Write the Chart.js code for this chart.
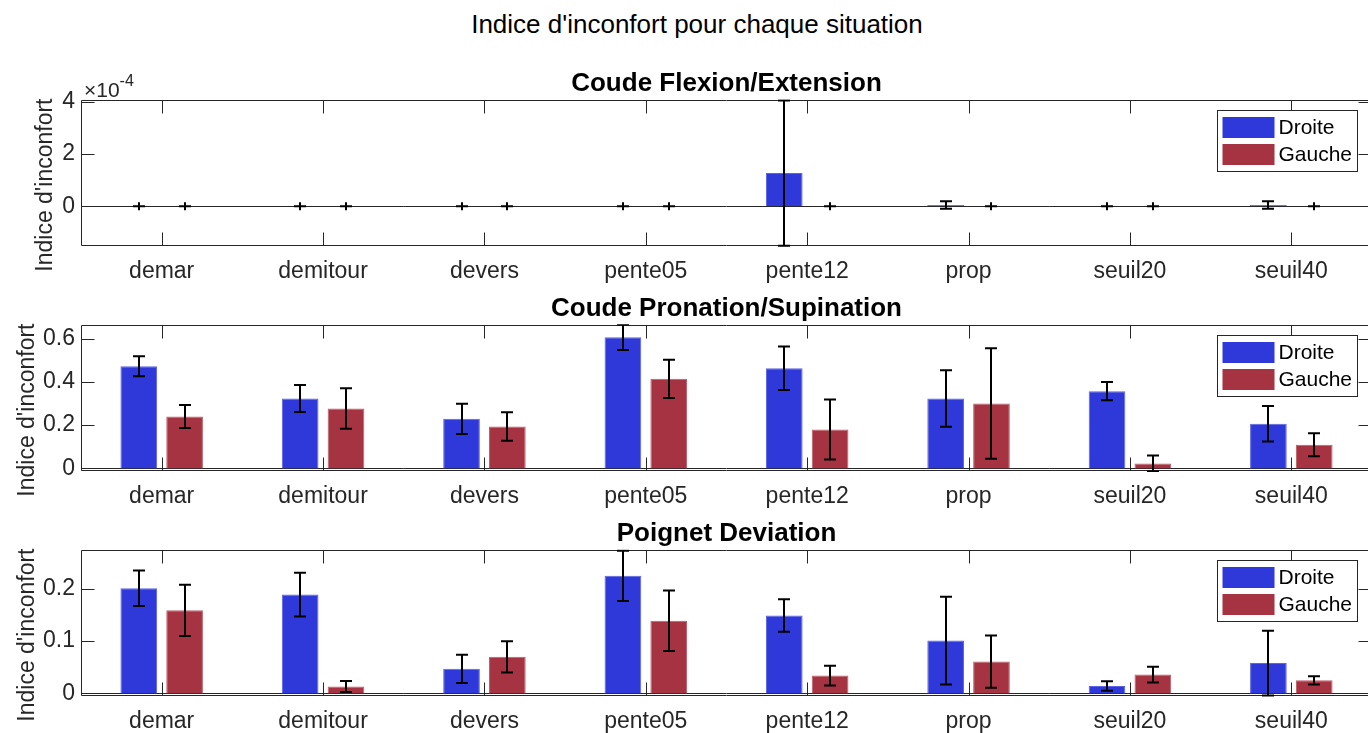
<!DOCTYPE html>
<html>
<head>
<meta charset="utf-8">
<script src="https://cdn.jsdelivr.net/npm/chart.js@4.4.1/dist/chart.umd.min.js"></script>
<style>
  html, body { margin: 0; padding: 0; background: #fff; overflow: hidden; }
  #wrap { position: relative; width: 1394px; height: 733px; }
  #figTitle { position: absolute; left: 0; top: 9px; width: 1394px; text-align: center;
    font: 26px 'Liberation Sans', Arial, sans-serif; line-height: 30px; color: #000; }
  canvas { position: absolute; left: 0; }
</style>
</head>
<body>
<div id="wrap">
  <div id="figTitle">Indice d'inconfort pour chaque situation</div>
  <canvas id="flexChart" width="1394" height="225" style="top:58px"></canvas>
  <canvas id="pronChart" width="1394" height="225" style="top:283px"></canvas>
  <canvas id="devChart" width="1394" height="225" style="top:508px"></canvas>
</div>
<script>
const situations = ['demar', 'demitour', 'devers', 'pente05', 'pente12', 'prop', 'seuil20', 'seuil40'];
const seriesNames = ['Droite', 'Gauche'];

// Coude Flexion/Extension (x 1e-4)
const flexDroite = [0, 0, 0, 0, 1.27e-4, 0.05e-4, 0, 0.05e-4];
const flexDroiteErr = [0, 0, 0, 0, 2.78e-4, 0.14e-4, 0, 0.14e-4];
const flexGauche = [0, 0, 0, 0, 0, 0, 0, 0];
const flexGaucheErr = [0, 0, 0, 0, 0, 0, 0, 0];
const flexTicks = [0, 2e-4, 4e-4];

// Coude Pronation/Supination
const pronDroite = [0.472, 0.323, 0.229, 0.606, 0.463, 0.323, 0.357, 0.206];
const pronDroiteErr = [0.046, 0.062, 0.070, 0.059, 0.100, 0.131, 0.042, 0.082];
const pronGauche = [0.240, 0.277, 0.194, 0.414, 0.180, 0.300, 0.023, 0.109];
const pronGaucheErr = [0.053, 0.094, 0.066, 0.088, 0.139, 0.255, 0.037, 0.053];
const pronTicks = [0, 0.2, 0.4, 0.6];

// Poignet Deviation
const devDroite = [0.201, 0.189, 0.047, 0.225, 0.149, 0.101, 0.014, 0.058];
const devDroiteErr = [0.034, 0.042, 0.027, 0.048, 0.031, 0.084, 0.009, 0.062];
const devGauche = [0.159, 0.013, 0.070, 0.139, 0.034, 0.061, 0.036, 0.025];
const devGaucheErr = [0.049, 0.0105, 0.030, 0.058, 0.019, 0.050, 0.015, 0.008];
const devTicks = [0, 0.1, 0.2];

const axisColor = '#262626';
const fontFamily = "'Liberation Sans', Arial, sans-serif";
Chart.defaults.font.family = fontFamily;
Chart.defaults.color = axisColor;

// matlab style box, inward ticks, zero baseline and y label
const matlabAxes = {
  id: 'matlabAxes',
  afterLayout(chart) {
    // center the subplot title over the axes, not the canvas
    const a = chart.chartArea;
    if (chart.titleBlock) {
      chart.titleBlock.left = a.left;
      chart.titleBlock.right = a.right;
      chart.titleBlock.width = a.right - a.left;
    }
  },
  beforeDatasetsDraw(chart) {
    const {ctx, chartArea: a, scales: {y}} = chart;
    const y0 = Math.round(y.getPixelForValue(0)) + 0.5;
    ctx.save();
    ctx.strokeStyle = axisColor;
    ctx.lineWidth = 1;
    ctx.beginPath();
    ctx.moveTo(a.left, y0);
    ctx.lineTo(a.right, y0);
    ctx.stroke();
    ctx.restore();
  },
  afterDatasetsDraw(chart, args, opts) {
    const {ctx, chartArea: a, scales: {x, y}} = chart;
    const len = 13;
    const L = Math.round(a.left) + 0.5, R = Math.round(a.right) - 0.5;
    const T = Math.round(a.top) + 0.5, B = Math.round(a.bottom) - 0.5;
    ctx.save();
    ctx.strokeStyle = axisColor;
    ctx.lineWidth = 1;
    ctx.beginPath();
    ctx.rect(L, T, R - L, B - T);
    x.ticks.forEach((t, i) => {
      const px = Math.round(x.getPixelForTick(i)) + 0.5;
      ctx.moveTo(px, B); ctx.lineTo(px, B - len);
      ctx.moveTo(px, T); ctx.lineTo(px, T + len);
    });
    y.ticks.forEach((t) => {
      const py = Math.round(y.getPixelForValue(t.value)) + 0.5;
      ctx.moveTo(L, py); ctx.lineTo(L + len, py);
      ctx.moveTo(R, py); ctx.lineTo(R - len, py);
    });
    ctx.stroke();
    ctx.fillStyle = axisColor;
    if (opts.exponent) {
      ctx.textBaseline = 'alphabetic';
      ctx.font = '21px ' + fontFamily;
      ctx.fillText('\u00d710', a.left + 3, a.top - 3);
      const w = ctx.measureText('\u00d710').width;
      ctx.font = '16px ' + fontFamily;
      ctx.fillText(opts.exponent, a.left + 3 + w, a.top - 14);
    }
    if (opts.yLabel) {
      ctx.translate(opts.yLabelX, (a.top + a.bottom) / 2 + 12);
      ctx.rotate(-Math.PI / 2);
      ctx.font = '23px ' + fontFamily;
      ctx.textAlign = 'center';
      ctx.textBaseline = 'middle';
      ctx.fillText(opts.yLabel, 0, 0);
    }
    ctx.restore();
  }
};

const errorBars = {
  id: 'errorBars',
  afterDatasetsDraw(chart) {
    const {ctx, chartArea: a, scales: {y}} = chart;
    ctx.save();
    ctx.beginPath();
    ctx.rect(a.left, a.top - 1, a.width, a.height + 2);
    ctx.clip();
    ctx.strokeStyle = '#000';
    ctx.lineWidth = 2;
    chart.data.datasets.forEach((ds, i) => {
      chart.getDatasetMeta(i).data.forEach((bar, j) => {
        const v = ds.data[j], e = ds.errors[j];
        const bx = Math.round(bar.x);
        const top = y.getPixelForValue(v + e);
        const bot = y.getPixelForValue(v - e);
        ctx.beginPath();
        if (e === 0) {
          ctx.moveTo(bx, top - 4); ctx.lineTo(bx, top + 4);
          ctx.moveTo(bx - 6, top); ctx.lineTo(bx + 6, top);
        } else {
          ctx.moveTo(bx, top); ctx.lineTo(bx, bot);
          ctx.moveTo(bx - 6, top); ctx.lineTo(bx + 6, top);
          ctx.moveTo(bx - 6, bot); ctx.lineTo(bx + 6, bot);
        }
        ctx.stroke();
      });
    });
    ctx.restore();
  }
};

const boxLegend = {
  id: 'boxLegend',
  afterDraw(chart) {
    const {ctx, chartArea: a} = chart;
    const w = 140, h = 61;
    const left = Math.round(a.right - 15 - w) + 0.5, top = Math.round(a.top + 10) + 0.5;
    ctx.save();
    ctx.fillStyle = '#fff';
    ctx.fillRect(left, top, w, h);
    ctx.strokeStyle = axisColor;
    ctx.lineWidth = 1;
    ctx.strokeRect(left, top, w, h);
    ctx.font = '21px ' + fontFamily;
    ctx.textBaseline = 'middle';
    chart.data.datasets.forEach((ds, i) => {
      const rowTop = top + 6.5 + i * 27;
      ctx.fillStyle = ds.backgroundColor;
      ctx.fillRect(left + 5, rowTop, 52, 21);
      ctx.fillStyle = '#000';
      ctx.fillText(ds.label, left + 61, rowTop + 11);
    });
    ctx.restore();
  }
};

function makePanel(canvasId, title, droite, droiteErr, gauche, gaucheErr, yMin, yMax, yTicks, tickFmt, yLabelX, exponent) {
  return new Chart(document.getElementById(canvasId), {
    type: 'bar',
    data: {
      labels: situations,
      datasets: [
        { label: seriesNames[0], data: droite, errors: droiteErr,
          backgroundColor: '#2f38d8', borderColor: '#5b63e2', borderWidth: 1,
          categoryPercentage: 0.568, barPercentage: 0.8 },
        { label: seriesNames[1], data: gauche, errors: gaucheErr,
          backgroundColor: '#a63341', borderColor: '#bb5c67', borderWidth: 1,
          categoryPercentage: 0.568, barPercentage: 0.8 }
      ]
    },
    options: {
      responsive: false,
      animation: false,
      layout: { padding: { left: 0, right: 22, top: 0, bottom: 0 } },
      plugins: {
        legend: { display: false },
        tooltip: { enabled: false },
        title: {
          display: true,
          text: title,
          color: '#000',
          font: { size: 26, weight: 'bold' },
          padding: { top: 10, bottom: 1 }
        },
        matlabAxes: { exponent: exponent, yLabel: "Indice d'inconfort", yLabelX: yLabelX }
      },
      scales: {
        x: {
          grid: { display: false, drawTicks: false },
          border: { display: false },
          ticks: { font: { size: 23 }, color: axisColor, padding: 12, maxRotation: 0, autoSkip: false },
          afterFit: (scale) => { scale.height = 37; }
        },
        y: {
          min: yMin,
          max: yMax,
          grid: { display: false, drawTicks: false },
          border: { display: false },
          ticks: { font: { size: 23 }, color: axisColor, padding: 6, callback: tickFmt },
          afterBuildTicks: (scale) => { scale.ticks = yTicks.map((v) => ({ value: v })); },
          afterFit: (scale) => { scale.width = 81; }
        }
      }
    },
    plugins: [matlabAxes, errorBars, boxLegend]
  });
}

const oneDecimal = (v) => (v === 0 ? '0' : v.toFixed(1));

makePanel('flexChart', 'Coude Flexion/Extension', flexDroite, flexDroiteErr, flexGauche, flexGaucheErr,
  -1.52e-4, 4.06e-4, flexTicks, (v) => String(Math.round(v * 1e4)), 46, '-4');
makePanel('pronChart', 'Coude Pronation/Supination', pronDroite, pronDroiteErr, pronGauche, pronGaucheErr,
  -0.012, 0.662, pronTicks, oneDecimal, 28);
makePanel('devChart', 'Poignet Deviation', devDroite, devDroiteErr, devGauche, devGaucheErr,
  -0.005, 0.274, devTicks, oneDecimal, 28);
</script>
</body>
</html>
